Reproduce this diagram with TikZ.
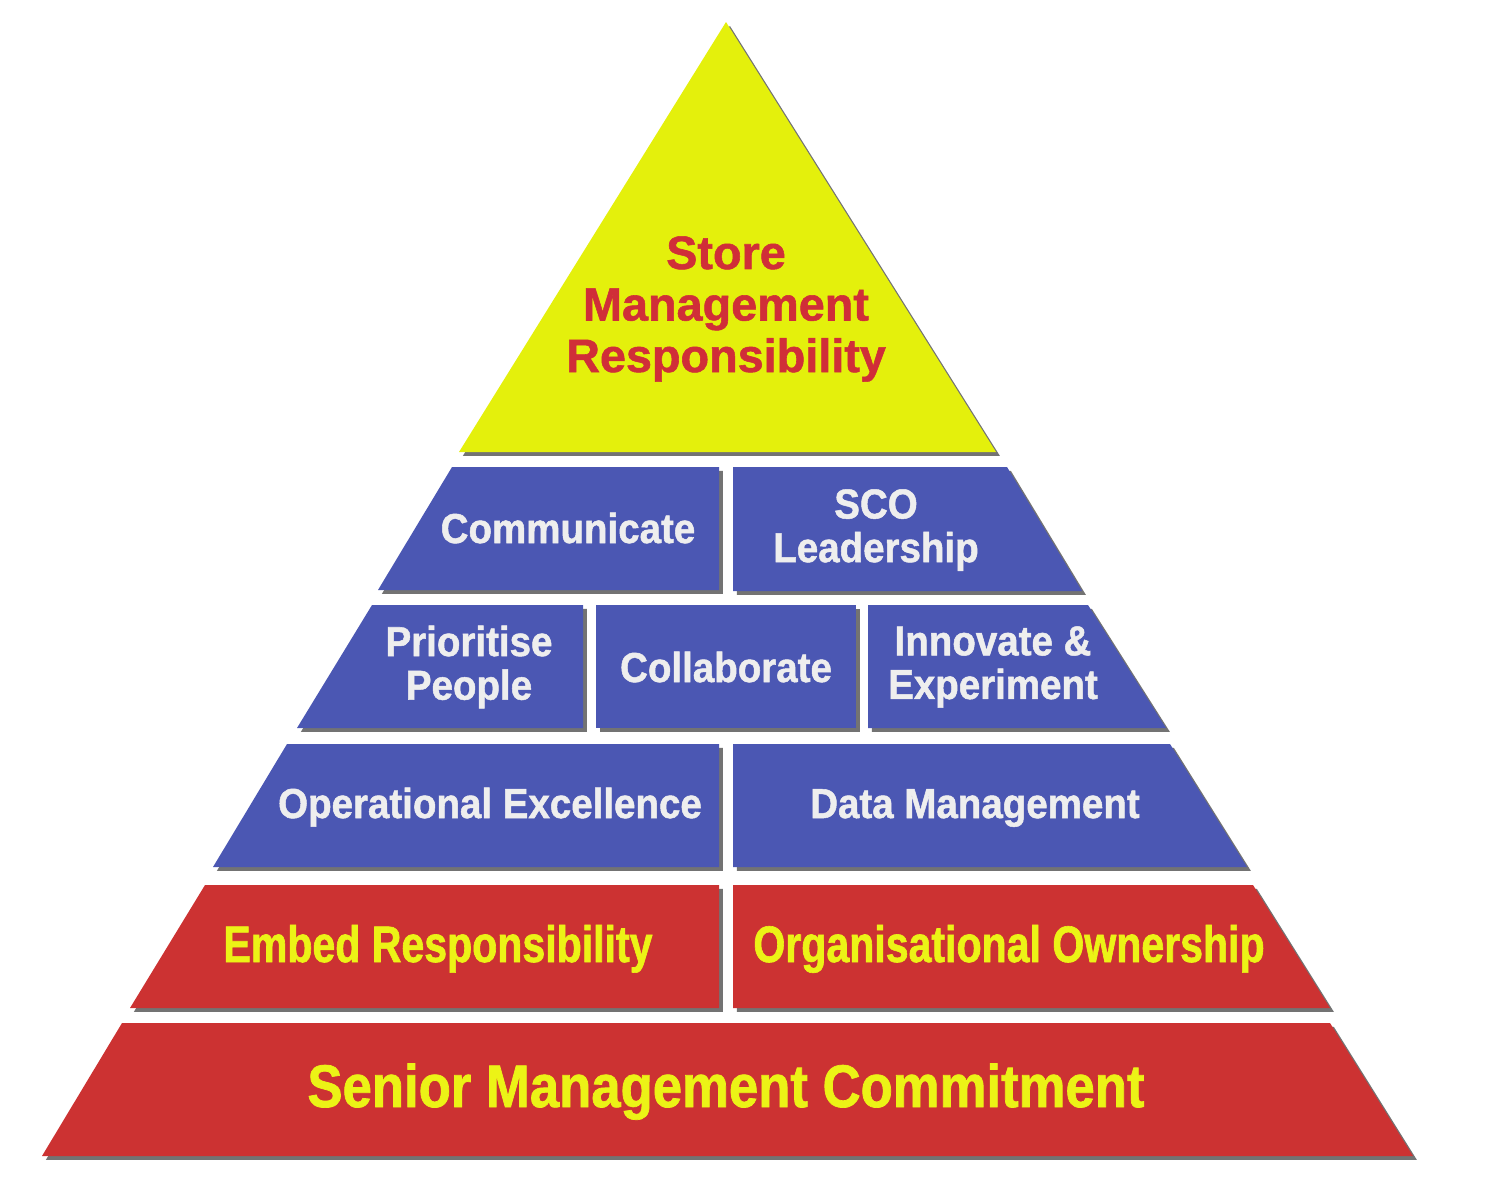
\documentclass[tikz,border=0pt]{standalone}
\usepackage{fontspec}
\setmainfont{Liberation Sans}
\newfontfamily\toptxt[FakeStretch=1.0, FakeBold=1.2]{Liberation Sans Bold}
\newfontfamily\bluetxt[FakeStretch=0.92, FakeBold=1.2]{Liberation Sans Bold}
\newfontfamily\redtxt[FakeStretch=0.80, FakeBold=1.2]{Liberation Sans Bold}
\newfontfamily\basetxt[FakeStretch=0.876, FakeBold=1.2]{Liberation Sans Bold}
\usetikzlibrary{shadows}
\definecolor{brickblue}{HTML}{4B57B3}
\definecolor{brickred}{HTML}{CC3232}
\definecolor{topyellow}{HTML}{E4F00C}
\definecolor{txtyellow}{HTML}{ECF316}
\definecolor{txtred}{HTML}{D02E38}
\definecolor{txtwhite}{HTML}{EEEEEE}
\begin{document}
\begin{tikzpicture}[
                            x=0.01cm, y=-0.01cm,
                            brick/.style={drop shadow={shadow xshift=1.1pt, shadow yshift=-1.1pt, fill=black!55, opacity=1}},
                            bluebrick/.style={brick, fill=brickblue},
                            redbrick/.style={brick, fill=brickred},
                            bluelbl/.style={text=txtwhite, align=center, inner sep=0pt, font=\bluetxt\fontsize{11.9}{12.4}\selectfont},
                            redlbl/.style={text=txtyellow, align=center, inner sep=0pt, font=\redtxt\fontsize{14.6}{15}\selectfont},
                            toplbl/.style={text=txtred, align=center, inner sep=0pt, font=\toptxt\fontsize{13.3}{14.65}\selectfont}
                            ]
            \useasboundingbox (0,0) rectangle (1501,1181);

            % top triangle
            \fill[brick, fill=topyellow] (726,22) -- (996,452) -- (459,452) -- cycle;
            \node[toplbl] (store) at (726,309) {Store\\Management\\Responsibility};

            % first row
            \fill[bluebrick] (452,467) -- (719,467) -- (719,590) -- (378,590) -- cycle;
            \fill[bluebrick] (733,467) -- (1007,467) -- (1082,591) -- (733,591) -- cycle;
            \node[bluelbl, anchor=base] (comm) at (568,543) {Communicate};
            \node[bluelbl] (sco) at (876,530) {SCO\\Leadership};

            % second row
            \fill[bluebrick] (372,605) -- (583,605) -- (583,728) -- (297,728) -- cycle;
            \fill[bluebrick] (596,605) -- (856,605) -- (856,728) -- (596,728) -- cycle;
            \fill[bluebrick] (868,605) -- (1088,605) -- (1166,728) -- (868,728) -- cycle;
            \node[bluelbl] (prio) at (469,667) {Prioritise\\People};
            \node[bluelbl, anchor=base] (collab) at (726,682) {Collaborate};
            \node[bluelbl] (innov) at (993,667) {Innovate \&\\Experiment};

            % third row
            \fill[bluebrick] (287,744) -- (719,744) -- (719,867) -- (213,867) -- cycle;
            \fill[bluebrick] (733,744) -- (1170,744) -- (1247,867) -- (733,867) -- cycle;
            \node[bluelbl, anchor=base] (opex) at (490,818) {Operational Excellence};
            \node[bluelbl, anchor=base] (data) at (975,818) {Data Management};

            % fourth row
            \fill[redbrick] (205,885) -- (719,885) -- (719,1008) -- (130,1008) -- cycle;
            \fill[redbrick] (733,885) -- (1253,885) -- (1330,1008) -- (733,1008) -- cycle;
            \node[redlbl, anchor=base] (embed) at (438,962) {Embed Responsibility};
            \node[redlbl, anchor=base] (owner) at (1009,962) {Organisational Ownership};

            % base
            \fill[redbrick] (122,1023) -- (1330,1023) -- (1413,1156) -- (42,1156) -- cycle;
            \node[redlbl, anchor=base, font=\basetxt\fontsize{17.1}{18}\selectfont] (senior) at (726,1107) {Senior Management Commitment};
\end{tikzpicture}
\end{document}
